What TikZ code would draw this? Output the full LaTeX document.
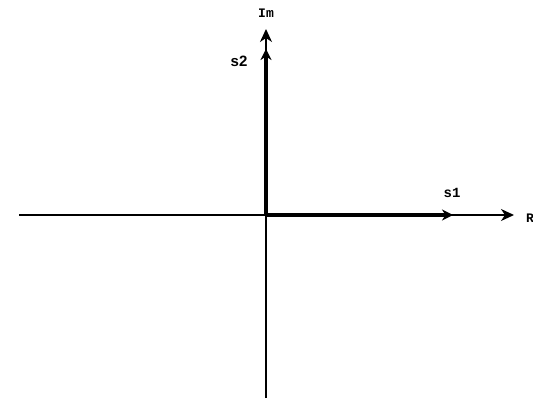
\documentclass[tikz,border=0pt]{standalone}
\usepackage{fontspec}
\setmonofont{Liberation Mono}
\setsansfont{Liberation Sans}
\usetikzlibrary{arrows.meta}
\begin{document}
\begin{tikzpicture}[x=1pt,y=-1pt,
  axisline/.style={line width=1.5pt},
  axis/.style={line width=1.5pt,-{Stealth[length=13pt,width=12pt,inset=4pt]}},
  vec/.style={line width=3.6pt,-{Stealth[length=11pt,width=11pt,inset=3.5pt]}},
  lbl/.style={font=\ttfamily\bfseries\fontsize{13}{15}\selectfont,inner sep=0pt},
  biglbl/.style={font=\ttfamily\bfseries\fontsize{14}{16}\selectfont,inner sep=0pt},
  sanslbl/.style={font=\sffamily\bfseries\fontsize{15}{17}\selectfont,inner sep=0pt}]
\useasboundingbox (0,0) rectangle (533,399);
\clip (0,0) rectangle (533,399);
\coordinate (O) at (266,215);
\coordinate (xl) at (19,215);
\coordinate (xr) at (514,215);
\coordinate (yb) at (266,398);
\coordinate (yt) at (266,29);
\coordinate (s1t) at (453,215);
\coordinate (s2t) at (266,49);
\draw[axisline] (xl) -- (O);
\draw[axis] (O) -- (xr);
\draw[axisline] (yb) -- (O);
\draw[axis] (O) -- (yt);
\draw[vec] (O) -- (s1t);
\draw[vec] (O) -- (s2t);
\node[lbl] (im) at (266,13) {Im};
\node[lbl,anchor=west] (re) at (526,218) {Re};
\node[biglbl] (s1) at (452,193) {s1};
\node[sanslbl] (s2) at (239,61) {s2};
\end{tikzpicture}
\end{document}
